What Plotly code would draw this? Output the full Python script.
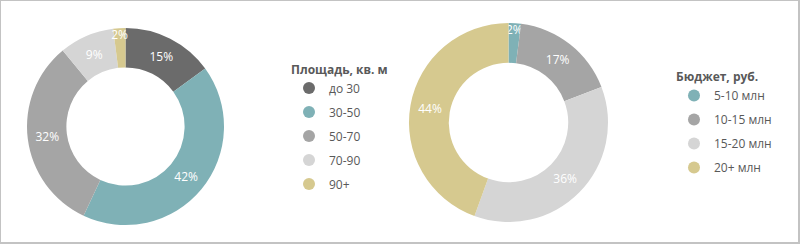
import plotly.graph_objects as go

area_title = "Площадь, кв. м"
area_labels = ["до 30", "30-50", "50-70", "70-90", "90+"]
area_values = [15, 42, 32, 9, 2]
area_colors = ["#6b6b6b", "#7fb1b6", "#a5a5a5", "#d5d5d5", "#d6c98f"]

budget_title = "Бюджет, руб."
budget_labels = ["5-10 млн", "10-15 млн", "15-20 млн", "20+ млн"]
budget_values = [2, 17, 36, 44]
budget_colors = ["#7fb1b6", "#a5a5a5", "#d5d5d5", "#d6c98f"]

W, H = 800, 244
FONT = "Open Sans"
TXT = "#595959"

fig = go.Figure()

def add_donut(labels, values, colors, box):
    x0, y0, x1, y1 = box
    fig.add_trace(go.Pie(
        labels=labels, values=values,
        marker=dict(colors=colors, line=dict(width=0)),
        hole=0.6, sort=False, direction="clockwise", rotation=0,
        texttemplate="%{value}%", textposition="inside",
        insidetextorientation="horizontal",
        textfont=dict(color="white", size=12, family=FONT),
        showlegend=False, hoverinfo="label+value",
        domain=dict(x=[x0 / W, x1 / W], y=[1 - y1 / H, 1 - y0 / H]),
    ))

add_donut(area_labels, area_values, area_colors, (27, 28, 224, 225))
add_donut(budget_labels, budget_values, budget_colors, (409, 23, 608, 222))

for lab, col in zip(area_labels, area_colors):
    fig.add_trace(go.Scatter(x=[None], y=[None], mode="markers", name=lab,
                             marker=dict(color=col, size=10, symbol="circle"),
                             legend="legend", legendgroup=lab, showlegend=True))
for lab, col in zip(budget_labels, budget_colors):
    fig.add_trace(go.Scatter(x=[None], y=[None], mode="markers", name=lab,
                             marker=dict(color=col, size=10, symbol="circle"),
                             legend="legend2", legendgroup="b" + lab, showlegend=True))

leg_common = dict(
    font=dict(family=FONT, size=12, color=TXT),
    bgcolor="rgba(0,0,0,0)", tracegroupgap=5,
    xanchor="left", yanchor="top", itemsizing="constant",
)
fig.update_layout(
    width=W, height=H,
    margin=dict(l=0, r=0, t=0, b=0),
    paper_bgcolor="white", plot_bgcolor="white",
    font=dict(family=FONT, color=TXT),
    uniformtext=dict(minsize=12, mode="show"),
    xaxis=dict(visible=False), yaxis=dict(visible=False),
    legend=dict(x=289 / W, y=1 - 58 / H,
                title=dict(text="<b>" + area_title + "</b>",
                           font=dict(family=FONT, size=12, color=TXT)),
                **leg_common),
    legend2=dict(x=674 / W, y=1 - 65.5 / H,
                 title=dict(text="<b>" + budget_title + "</b>",
                            font=dict(family=FONT, size=12, color=TXT)),
                 **leg_common),
    shapes=[
        dict(type="rect", xref="paper", yref="paper", x0=0, y0=0, x1=1, y1=1,
             line=dict(color="#c3c3c3", width=2), layer="above"),
        dict(type="line", xref="paper", yref="paper", x0=0, y0=0, x1=1, y1=0,
             line=dict(color="#c3c3c3", width=4), layer="above"),
        dict(type="line", xref="paper", yref="paper", x0=1, y0=0, x1=1, y1=1,
             line=dict(color="#c3c3c3", width=4), layer="above"),
    ],
)

fig.write_html("out.html")
